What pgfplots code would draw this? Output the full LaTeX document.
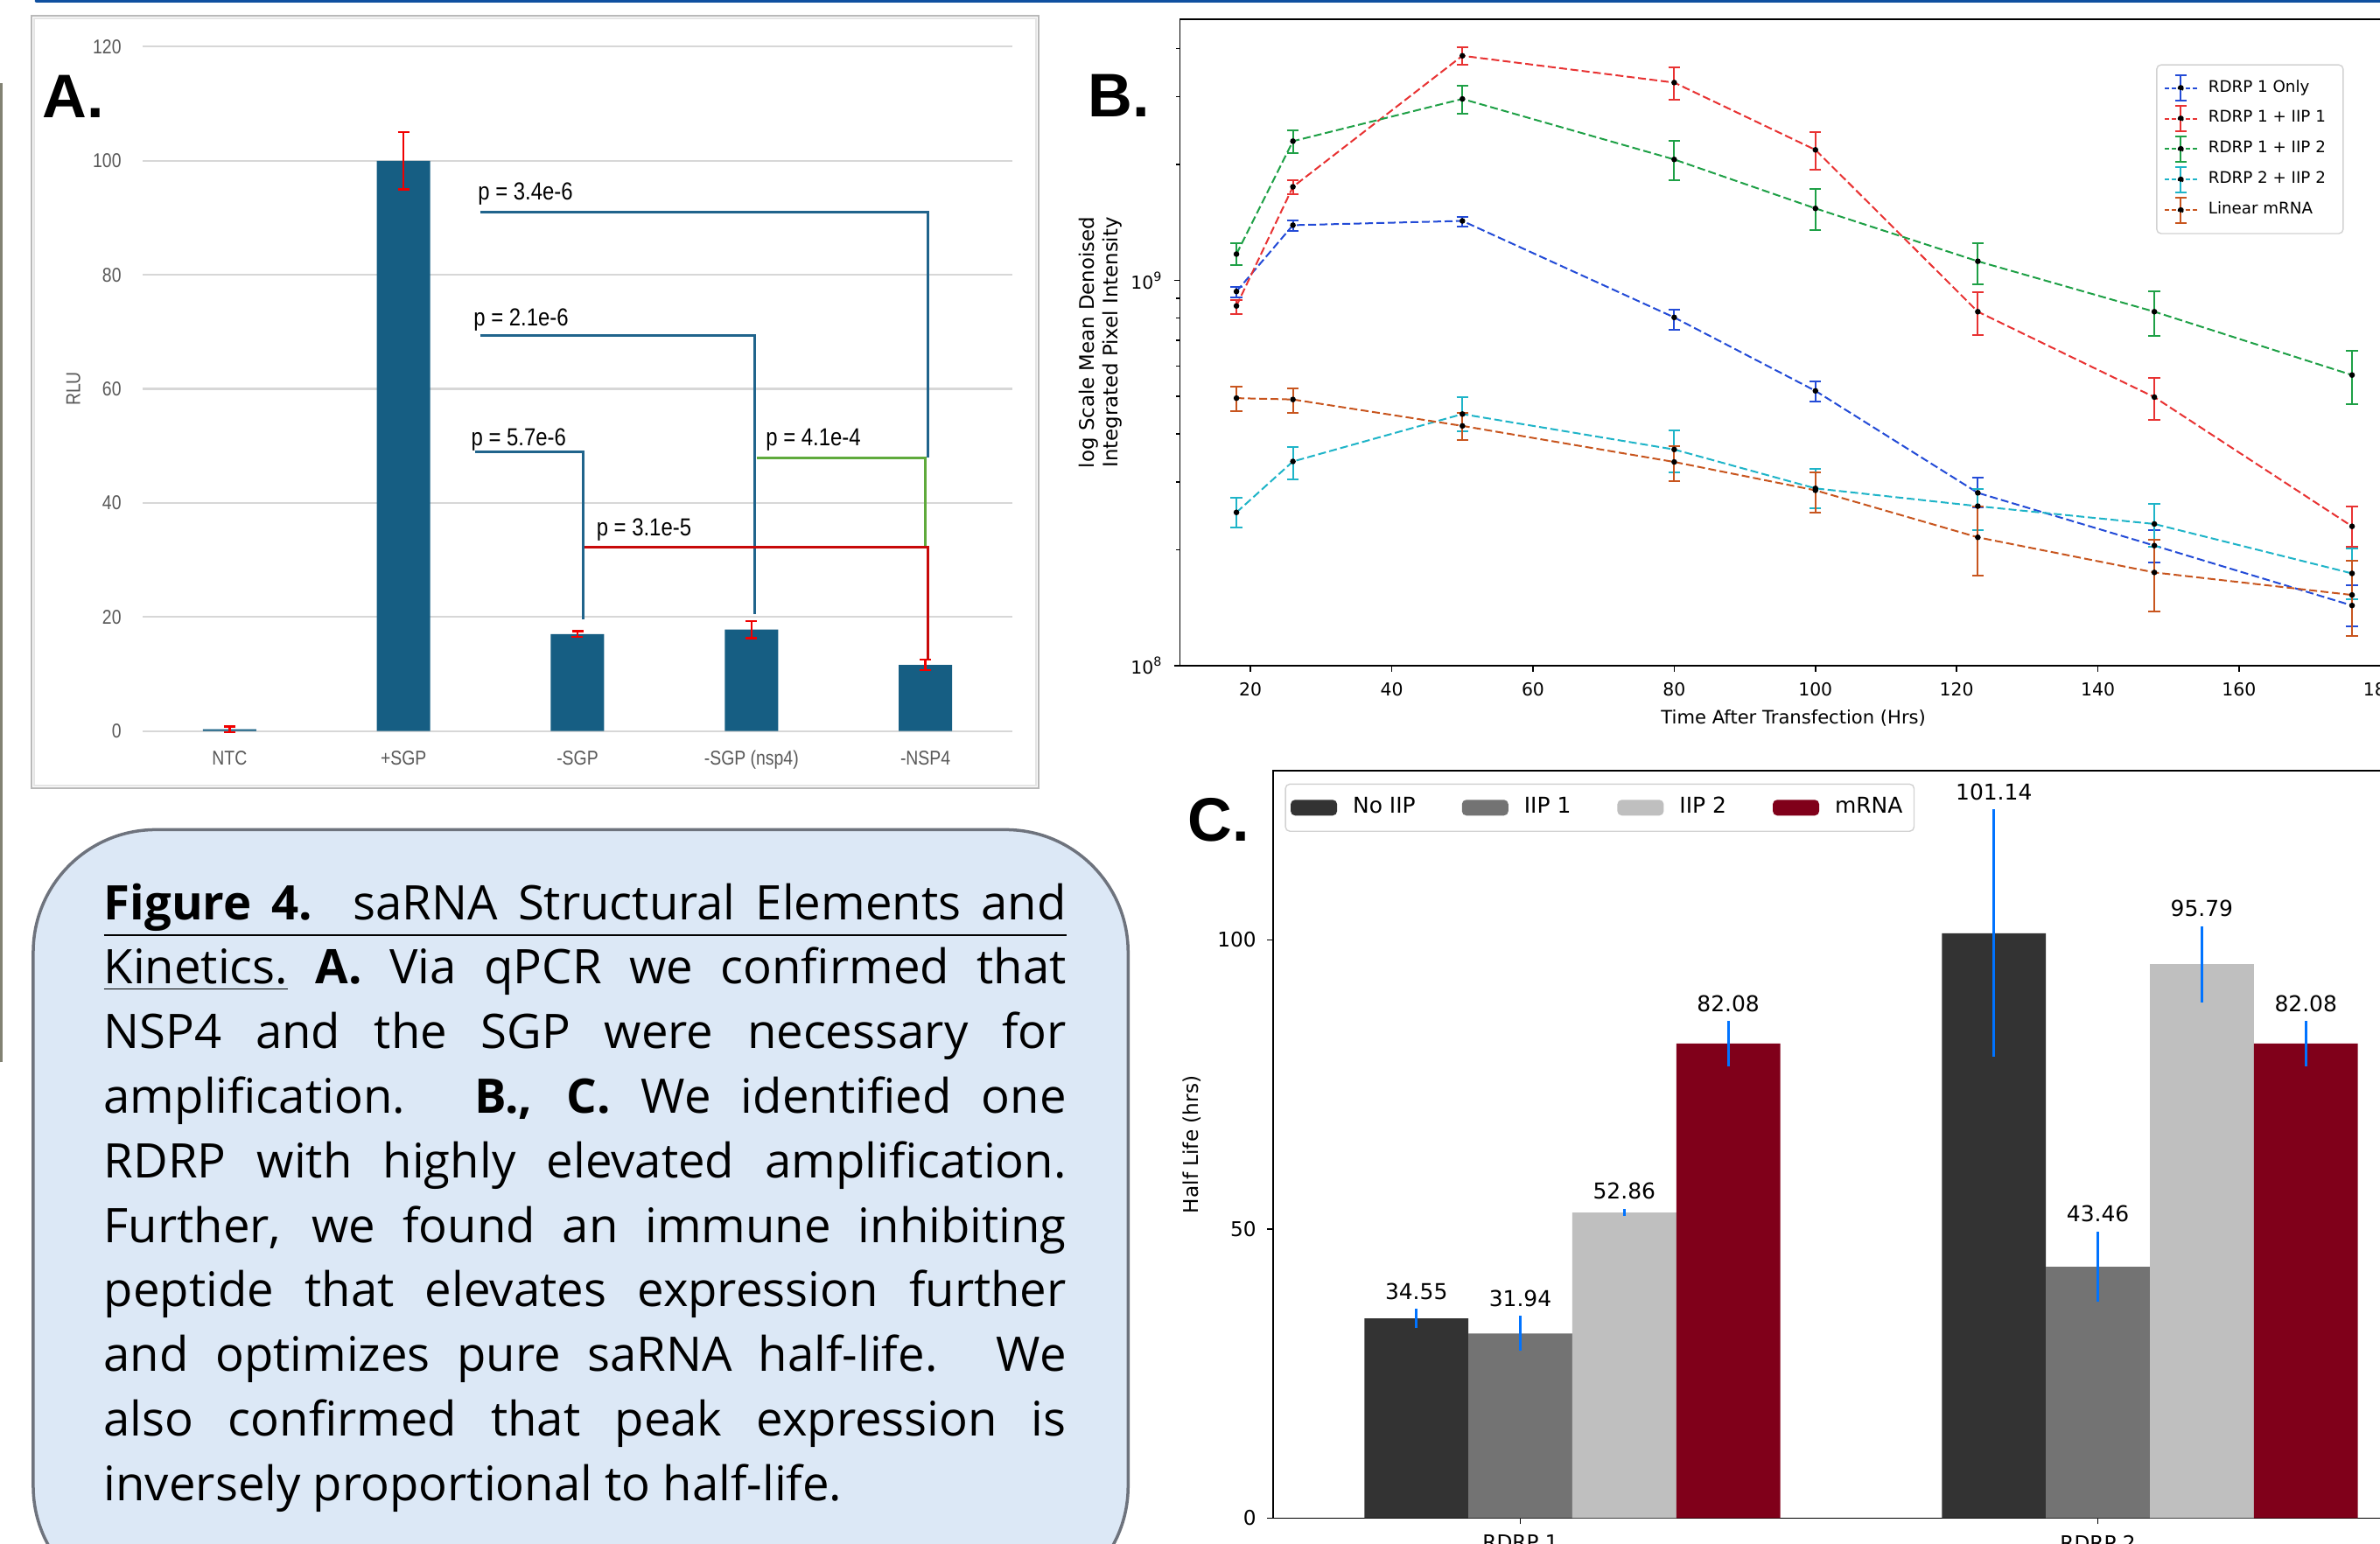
\documentclass[border=0pt]{standalone}
\usepackage{fontspec}
\setmainfont{DejaVu Sans}
\newfontfamily\narrowf[FakeStretch=0.85]{Liberation Sans}
\newfontfamily\capf{Open Sans}
\newfontfamily\panelf{Liberation Sans}
\usepackage{pgfplots}
\pgfplotsset{compat=1.18}

\definecolor{barA}{RGB}{22,94,131}
\definecolor{brkA}{RGB}{32,100,140}
\definecolor{grnA}{RGB}{95,170,60}
\definecolor{redA}{RGB}{200,10,10}
\definecolor{errA}{RGB}{240,0,0}
\definecolor{gridA}{RGB}{215,215,215}
\definecolor{tickA}{RGB}{89,89,89}
\definecolor{cB1}{RGB}{35,75,215}
\definecolor{cB2}{RGB}{232,50,50}
\definecolor{cB3}{RGB}{30,160,70}
\definecolor{cB4}{RGB}{30,180,200}
\definecolor{cB5}{RGB}{200,85,30}
\definecolor{noiip}{RGB}{51,51,51}
\definecolor{iip1}{RGB}{115,115,115}
\definecolor{iip2}{RGB}{191,191,191}
\definecolor{mrna}{RGB}{128,0,26}
\definecolor{errC}{RGB}{0,115,255}
\definecolor{capfill}{RGB}{220,232,246}
\definecolor{capdraw}{RGB}{110,115,125}
\definecolor{topblue}{RGB}{15,80,160}
\definecolor{leftline}{RGB}{130,130,115}

\pgfplotsset{
  bline/.style={densely dashed, dash pattern=on 0.09cm off 0.04cm, line width=0.02cm,
    mark=*, mark size=0.022cm, mark options={solid, fill=black, draw=black},
    error bars/y dir=both, error bars/y explicit,
    error bars/error bar style={solid, line width=0.02cm},
    error bars/error mark options={rotate=90, mark size=0.067cm, solid, line width=0.02cm}},
  bleg/.style={legend image code/.code={
    \draw[dash pattern=on 0.05cm off 0.03cm, line width=0.02cm] (0cm,0cm) -- (0.37cm,0cm);
    \draw[solid, line width=0.02cm] (0.185cm,-0.145cm) -- (0.185cm,0.145cm);
    \draw[solid, line width=0.02cm] (0.12cm,-0.145cm) -- (0.25cm,-0.145cm);
    \draw[solid, line width=0.02cm] (0.12cm,0.145cm) -- (0.25cm,0.145cm);
    \fill[black] (0.185cm,0cm) circle (0.025cm);}},
  cleg/.style={legend image code/.code={\fill (0cm,-0.09cm) rectangle (0.53cm,0.09cm);}},
  cbar/.style={ybar, bar width=0.18, bar shift=0pt, draw=none, cleg,
    error bars/y dir=both, error bars/y explicit,
    error bars/error bar style={errC, line width=0.03cm}, error bars/error mark=none},
  clab/.style={draw=none, mark=none, forget plot, nodes near coords,
    point meta=explicit symbolic,
    nodes near coords style={font=\fontsize{7.1}{8}\selectfont, anchor=south, inner sep=0pt, yshift=0.1cm}}
}

\begin{document}
\begin{tikzpicture}
\useasboundingbox (0,0) rectangle (27.2,17.64);
\clip (0,0) rectangle (27.2,17.64);
\fill[white] (0,0) rectangle (27.2,17.64);

\begin{scope}[shift={(0cm,17.64cm)},x=0.01cm,y=-0.01cm]
  \draw[topblue,line width=0.045cm,line cap=round] (42,1) -- (2730,1);
  \draw[leftline,line width=0.035cm] (1.5,1215) -- (1.5,95);
  \draw[gray!55,line width=0.02cm,fill=white] (36,18) rectangle (1188,902);
  \draw[gray!20,line width=0.02cm] (39,21) rectangle (1185,899);
  \draw[capdraw,line width=0.035cm,fill=capfill,rounded corners=1.4cm] (38,949) rectangle (1290,1840);
\end{scope}

% caption
\node[anchor=north west,inner sep=0pt,text width=11cm,align=justify,
  font=\capf\fontsize{15.5}{21}\selectfont] at (1.18cm,7.55cm) {%
\underline{\makebox[11cm][s]{\textbf{Figure 4.} saRNA Structural Elements and}}\linebreak
\underline{Kinetics.} \textbf{A.} Via qPCR we confirmed that\linebreak
NSP4 and the SGP were necessary for\linebreak
amplification. \textbf{B., C.} We identified one\linebreak
RDRP with highly elevated amplification.\linebreak
Further, we found an immune inhibiting\linebreak
peptide that elevates expression further\linebreak
and optimizes pure saRNA half-life. We\linebreak
also confirmed that peak expression is\linebreak
inversely proportional to half-life.};

% ---------------- panel A
\begin{axis}[at={(1.63cm,9.283cm)}, anchor=south west, scale only axis,
  width=9.94cm, height=7.823cm,
  xmin=-0.5, xmax=4.5, ymin=0, ymax=120,
  ytick={0,20,...,120}, xtick={0,1,2,3,4},
  xticklabels={NTC,+SGP,-SGP,-SGP (nsp4),-NSP4},
  axis line style={draw=none}, major tick length=0pt,
  ymajorgrids, grid style={gridA, line width=0.022cm},
  tick label style={font=\narrowf\fontsize{6.5}{7}\selectfont, text=tickA},
  yticklabel style={xshift=-0.12cm},
  xticklabel style={yshift=-0.1cm},
  ylabel={RLU}, ylabel style={font=\narrowf\fontsize{6.5}{7}\selectfont, text=tickA,
    at={(axis description cs:-0.0795,0.5)}, anchor=center},
  /pgf/number format/assume math mode=true, clip=false]
\addplot[ybar, bar width=0.61cm, bar shift=0pt, fill=barA, draw=none,
  error bars/y dir=both, error bars/y explicit,
  error bars/error bar style={errA, line width=0.025cm},
  error bars/error mark options={errA, rotate=90, mark size=0.065cm, line width=0.025cm}]
  table[x=x, y=y, y error=e] {
x y e
0 0.3 0.5
1 100 5
2 17.0 0.5
3 17.8 1.5
4 11.6 0.9
};
\draw[brkA, line width=0.03cm] (axis cs:1.44,91) -- (axis cs:4.016,91) -- (axis cs:4.016,47.9);
\draw[brkA, line width=0.03cm] (axis cs:1.44,69.3) -- (axis cs:3.02,69.3) -- (axis cs:3.02,20.5);
\draw[brkA, line width=0.03cm] (axis cs:1.41,49) -- (axis cs:2.035,49) -- (axis cs:2.035,19.6);
\draw[grnA, line width=0.03cm] (axis cs:3.03,47.9) -- (axis cs:4.0,47.9) -- (axis cs:4.0,32.2);
\draw[redA, line width=0.03cm] (axis cs:2.04,32.2) -- (axis cs:4.016,32.2) -- (axis cs:4.016,12.5);
\begin{scope}[every node/.style={anchor=base west, inner sep=0pt, font=\narrowf\fontsize{8}{9}\selectfont}]
\node at (axis cs:1.425,93.2) {p = 3.4e-6};
\node at (axis cs:1.40,71.0) {p = 2.1e-6};
\node at (axis cs:1.386,50.0) {p = 5.7e-6};
\node at (axis cs:3.08,50.0) {p = 4.1e-4};
\node at (axis cs:2.106,34.3) {p = 3.1e-5};
\end{scope}
\end{axis}
\node[anchor=base west,inner sep=0pt,font=\panelf\bfseries\fontsize{20}{20}\selectfont] at (0.48cm,16.29cm) {A.};

% ---------------- panel B
\begin{axis}[at={(13.485cm,10.03cm)}, anchor=south west, scale only axis,
  width=14.202cm, height=7.39cm,
  xmin=10, xmax=186, ymode=log, ymin=1e8, ymax=4.77e9,
  xtick={20,40,...,180}, ytick={1e8,1e9},
  yticklabels={10\textsuperscript{8},10\textsuperscript{9}},
  minor ytick={2e8,3e8,4e8,5e8,6e8,7e8,8e8,9e8,2e9,3e9,4e9},
  tick align=outside, xtick pos=left, ytick pos=left,
  major tick length=0.07cm, minor tick length=0.045cm,
  tick style={black, line width=0.015cm},
  axis line style={line width=0.018cm},
  tick label style={font=\fontsize{5.8}{6.5}\selectfont},
  xlabel={Time After Transfection (Hrs)},
  xlabel style={font=\fontsize{6}{7}\selectfont, at={(axis description cs:0.4937,-0.0812)}, anchor=center},
  ylabel={log Scale Mean Denoised\\Integrated Pixel Intensity},
  ylabel style={font=\fontsize{6.5}{7.6}\selectfont, align=center,
    at={(axis description cs:-0.0637,0.5)}, anchor=center},
  legend style={at={(0.7855,0.9303)}, anchor=north west, draw=gray!35,
    rounded corners=0.05cm, font=\fontsize{5.2}{6}\selectfont,
    row sep=0.02cm, inner xsep=0.08cm, inner ysep=0.1cm,
    nodes={inner xsep=0.12cm}},
  legend cell align=left,
  /pgf/number format/assume math mode=true]
\addplot[cB1, bleg, bline] table[x=x, y=y, y error plus=ep, y error minus=em] {
x y ep em
18 9.364e8 0.27e8 0.32e8
26 13.92e8 0.40e8 0.48e8
50 14.28e8 0.38e8 0.44e8
80 8.02e8 0.40e8 0.56e8
100 5.17e8 0.30e8 0.33e8
123 2.81e8 0.26e8 0.23e8
148 2.05e8 0.20e8 0.195e8
176 1.433e8 0.183e8 0.167e8
};
\addlegendentry{RDRP 1 Only}
\addplot[cB2, bleg, bline] table[x=x, y=y, y error plus=ep, y error minus=em] {
x y ep em
18 8.59e8 0.325e8 0.41e8
26 17.51e8 0.67e8 0.74e8
50 38.33e8 1.92e8 1.92e8
80 32.65e8 3.03e8 3.12e8
100 21.84e8 2.45e8 2.48e8
123 8.30e8 1.01e8 1.07e8
148 4.98e8 0.605e8 0.64e8
176 2.30e8 0.295e8 0.267e8
};
\addlegendentry{RDRP 1 + IIP 1}
\addplot[cB3, bleg, bline] table[x=x, y=y, y error plus=ep, y error minus=em] {
x y ep em
18 11.71e8 0.77e8 0.75e8
26 23.00e8 1.57e8 1.60e8
50 29.61e8 2.38e8 2.52e8
80 20.62e8 2.38e8 2.44e8
100 15.39e8 1.87e8 1.87e8
123 11.22e8 1.30e8 1.42e8
148 8.30e8 1.09e8 1.11e8
176 5.683e8 0.876e8 0.90e8
};
\addlegendentry{RDRP 1 + IIP 2}
\addplot[cB4, bleg, bline] table[x=x, y=y, y error plus=ep, y error minus=em] {
x y ep em
18 2.50e8 0.225e8 0.22e8
26 3.39e8 0.305e8 0.35e8
50 4.50e8 0.48e8 0.43e8
80 3.642e8 0.445e8 0.468e8
100 2.886e8 0.352e8 0.329e8
123 2.595e8 0.274e8 0.348e8
148 2.333e8 0.30e8 0.30e8
176 1.736e8 0.279e8 0.245e8
};
\addlegendentry{RDRP 2 + IIP 2}
\addplot[cB5, bleg, bline] table[x=x, y=y, y error plus=ep, y error minus=em] {
x y ep em
18 4.95e8 0.35e8 0.37e8
26 4.91e8 0.335e8 0.368e8
50 4.193e8 0.349e8 0.335e8
80 3.38e8 0.335e8 0.366e8
100 2.853e8 0.321e8 0.353e8
123 2.154e8 0.441e8 0.442e8
148 1.746e8 0.377e8 0.366e8
176 1.526e8 0.35e8 0.33e8
};
\addlegendentry{Linear mRNA}
\end{axis}
\node[anchor=base west,inner sep=0pt,font=\panelf\bfseries\fontsize{20}{20}\selectfont] at (12.43cm,16.30cm) {B.};

% ---------------- panel C
\begin{axis}[at={(14.55cm,0.286cm)}, anchor=south west, scale only axis,
  width=13.386cm, height=8.54cm,
  xmin=-0.428, xmax=1.6, ymin=0, ymax=129.2,
  xtick={0,1}, xticklabels={RDRP 1,RDRP 2}, ytick={0,50,100},
  tick align=outside, xtick pos=left, ytick pos=left,
  major tick length=0.07cm,
  tick style={black, line width=0.015cm},
  axis line style={line width=0.018cm},
  tick label style={font=\fontsize{6.6}{7.5}\selectfont},
  ylabel={Half Life (hrs)},
  ylabel style={font=\fontsize{6.6}{7.5}\selectfont,
    at={(axis description cs:-0.0691,0.5)}, anchor=center},
  legend columns=4,
  legend style={at={(0.010,0.9833)}, anchor=north west, draw=gray!35,
    rounded corners=0.05cm, font=\fontsize{7.1}{8}\selectfont,
    inner xsep=0.06cm, inner ysep=0.08cm,
    /tikz/every odd column/.append style={column sep=0.11cm},
    /tikz/every even column/.append style={column sep=0.46cm}},
  /pgf/number format/assume math mode=true]
\addplot[fill=noiip, cbar] table[x=x, y=y, y error=e] {
x y e
-0.18 34.55 1.6
0.82 101.14 21.4
};
\addlegendentry{No IIP}
\addplot[fill=iip1, cbar] table[x=x, y=y, y error=e] {
x y e
0 31.94 3.0
1 43.46 6.1
};
\addlegendentry{IIP 1}
\addplot[fill=iip2, cbar] table[x=x, y=y, y error=e] {
x y e
0.18 52.86 0.6
1.18 95.79 6.6
};
\addlegendentry{IIP 2}
\addplot[fill=mrna, cbar] table[x=x, y=y, y error=e] {
x y e
0.36 82.08 3.9
1.36 82.08 3.9
};
\addlegendentry{mRNA}
\addplot[clab] table[x=x, y=y, meta=lab] {
x y lab
-0.18 36.15 34.55
0 34.94 31.94
0.18 53.46 52.86
0.36 85.98 82.08
0.82 122.54 101.14
1 49.56 43.46
1.18 102.39 95.79
1.36 85.98 82.08
};
\end{axis}
\node[anchor=base west,inner sep=0pt,font=\panelf\bfseries\fontsize{20}{20}\selectfont] at (13.57cm,8.02cm) {C.};
\end{tikzpicture}
\end{document}
